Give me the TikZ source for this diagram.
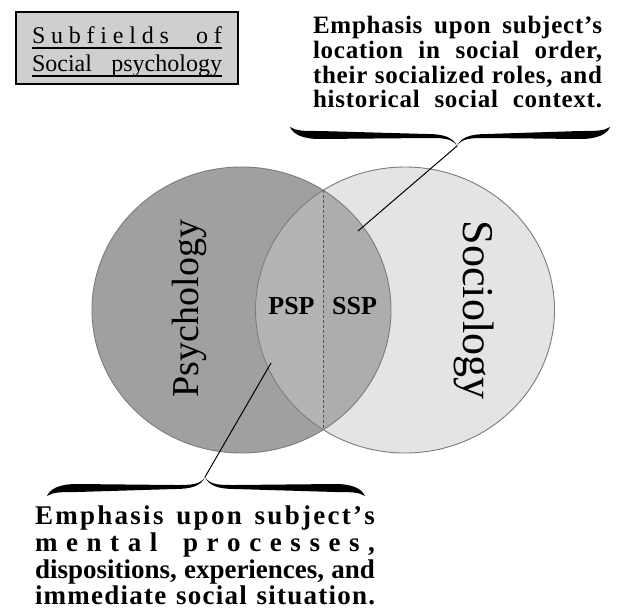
\documentclass[tikz,border=0pt]{standalone}
\usepackage{fontspec}
\setmainfont{Liberation Serif}
\definecolor{psyfill}{HTML}{A0A0A0}
\definecolor{socfill}{HTML}{E4E4E4}
\definecolor{pspfill}{HTML}{B4B4B4}
\definecolor{sspfill}{HTML}{ADADAD}
\definecolor{ringgray}{HTML}{7C7C7C}
\definecolor{boxgray}{HTML}{CFCFCF}
\definecolor{splitgray}{HTML}{555555}
\newcommand\myfs[1]{\fontsize{#1}{#1}\selectfont}
\def\mylsword#1{\mylsA#1\relax}
\def\mylsA#1{#1\mylsB}
\def\mylsB#1{\ifx#1\relax\else\hskip 0pt plus 1fil\relax#1\expandafter\mylsB\fi}
\newcommand\mywordgap{\hskip 6pt plus 3fil\relax}
\newcommand\halfbrace[1]{%
  \fill (0,0) .. controls (-5,-8) and (-14,-8) .. (-30,-8)
    -- ({-#1+30},-7) .. controls ({-#1+12},-7) and ({-#1+3},-12) .. (-#1,-19)
    .. controls ({-#1+6},-15) and ({-#1+14},-15) .. ({-#1+30},-15)
    -- (-30,-12) .. controls (-14,-12) and (-4,-9) .. (0,0) -- cycle;}
\tikzset{
  ring/.style={draw=ringgray, line width=0.9pt},
  toptext/.style={font=\bfseries\myfs{25}\addfontfeature{LetterSpace=3}},
  bottext/.style={font=\bfseries\myfs{27}},
  titlefont/.style={font=\myfs{24}},
  inlabel/.style={font=\bfseries\myfs{26}},
  connector/.style={draw=black, line width=1pt},
  splitline/.style={draw=splitgray, line width=0.7pt, densely dashed},
}
\begin{document}
\begin{tikzpicture}[x=1pt,y=-1pt, every node/.style={inner sep=0pt, outer sep=0pt}]
\useasboundingbox[fill=white] (0,0) rectangle (618,614);

% title box
\node[draw=black, line width=1.6pt, fill=boxgray, anchor=north west,
      minimum width=222pt, minimum height=72pt] (titlebox) at (16,12) {};
\node[titlefont, anchor=base west] (title1) at (32,43)
  {\makebox[190pt][s]{\mylsword{Subfields}\hskip 10pt plus 3fil\relax\mylsword{of}}};
\node[titlefont, anchor=base west] (title2) at (32,71)
  {\makebox[190pt][s]{Social psychology}};
\draw[line width=1.3pt] ([yshift=-5pt]title1.base west) -- ([yshift=-5pt]title1.base east);
\draw[line width=1.3pt] ([yshift=-5pt]title2.base west) -- ([yshift=-5pt]title2.base east);

% circles
\fill[psyfill] (241.5,310) ellipse [x radius=149.5pt, y radius=143pt];
\fill[socfill] (405,310) ellipse [x radius=149.5pt, y radius=143pt];
\begin{scope}
  \clip (241.5,310) ellipse [x radius=149.5pt, y radius=143pt];
  \clip (405,310) ellipse [x radius=149.5pt, y radius=143pt];
  \fill[pspfill] (200,150) rectangle (323.25,470);
  \fill[sspfill] (323.25,150) rectangle (450,470);
\end{scope}
\draw[ring] (241.5,310) ellipse [x radius=149.5pt, y radius=143pt];
\draw[ring] (405,310) ellipse [x radius=149.5pt, y radius=143pt];
\coordinate (itop) at (323.25,190.4);
\coordinate (ibot) at (323.25,429.6);
\draw[splitline] (itop) -- (ibot);

% circle labels
\node[rotate=90, anchor=base, font=\myfs{38}] (psy) at (198,308.5) {Psychology};
\node[rotate=-90, anchor=base, font=\myfs{44}] (soc) at (463,310) {Sociology};
\node[inlabel, anchor=base] (psp) at (291.5,314) {PSP};
\node[inlabel, anchor=base] (ssp) at (354.5,314) {SSP};

% top annotation
\node[toptext, anchor=base west] (tr1) at (313,33) {\makebox[289pt][s]{Emphasis upon subject's}};
\node[toptext, anchor=base west] (tr2) at (313,58) {\makebox[289pt][s]{location in social order,}};
\node[toptext, anchor=base west] (tr3) at (313,83) {\makebox[289pt][s]{their socialized roles, and}};
\node[toptext, anchor=base west] (tr4) at (313,107) {\makebox[289pt][s]{historical social context.}};
\begin{scope}[shift={(457,146)}]
  \halfbrace{167}
  \begin{scope}[xscale=-1]\halfbrace{153}\end{scope}
\end{scope}
\coordinate (topcusp) at (457,146);
\coordinate (sspend) at (358,231);
\draw[connector] (topcusp) -- (sspend);

% bottom annotation
\begin{scope}[shift={(205,477)}, yscale=-1]
  \halfbrace{158}
  \begin{scope}[xscale=-1]\halfbrace{160}\end{scope}
\end{scope}
\coordinate (botcusp) at (205,477);
\coordinate (pspend) at (271,363);
\draw[connector] (botcusp) -- (pspend);
\node[bottext, anchor=base west] (bl1) at (35,524)
  {\makebox[340pt][s]{\mylsword{Emphasis}\mywordgap\mylsword{upon}\mywordgap\mylsword{subject's}}};
\node[bottext, anchor=base west] (bl2) at (35,551)
  {\makebox[340pt][s]{\mylsword{mental}\hskip 0pt plus 3fil\relax\mylsword{processes,}}};
\node[bottext, anchor=base west] (bl3) at (35,578)
  {\makebox[340pt][s]{dispositions, experiences, and}};
\node[bottext, anchor=base west] (bl4) at (35,604)
  {\makebox[340pt][s]{\mylsword{immediate}\mywordgap\mylsword{social}\mywordgap\mylsword{situation.}}};
\end{tikzpicture}
\end{document}
